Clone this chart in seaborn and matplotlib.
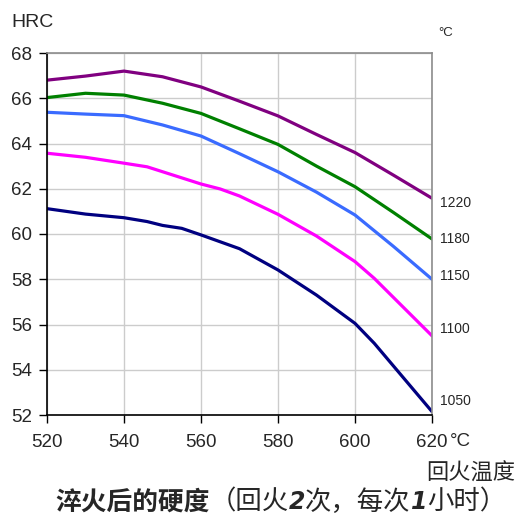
import pandas as pd
import seaborn as sns
import matplotlib.pyplot as plt

# tempering temperature (C) / hardness (HRC) for each quench temperature
quench = ["1220", "1180", "1150", "1100", "1050"]
temps_1220 = [520, 530, 540, 550, 560, 570, 580, 590, 600, 610, 620]
hrc_1220 = [66.8, 66.98, 67.2, 66.95, 66.5, 65.87, 65.22, 64.4, 63.6, 62.6, 61.58]
temps_1180 = [520, 530, 540, 550, 560, 570, 580, 590, 600, 610, 620]
hrc_1180 = [66.03, 66.22, 66.14, 65.78, 65.33, 64.65, 63.96, 63.0, 62.09, 60.95, 59.78]
temps_1150 = [520, 530, 540, 550, 560, 570, 580, 590, 600, 610, 620]
hrc_1150 = [65.38, 65.3, 65.23, 64.82, 64.33, 63.55, 62.75, 61.85, 60.84, 59.45, 58.0]
temps_1100 = [520, 530, 540, 546, 560, 565, 570, 580, 590, 600, 605, 620]
hrc_1100 = [63.57, 63.39, 63.13, 62.97, 62.21, 61.99, 61.68, 60.87, 59.91, 58.78, 58.04, 55.5]
temps_1050 = [520, 530, 540, 546, 550, 555, 560, 570, 580, 590, 600, 605, 620]
hrc_1050 = [61.12, 60.88, 60.72, 60.55, 60.38, 60.25, 59.96, 59.35, 58.41, 57.3, 56.05, 55.17, 52.15]

x_ticks = [520, 540, 560, 580, 600, 620]
y_ticks = [52, 54, 56, 58, 60, 62, 64, 66, 68]
colors = ["#800080", "#008000", "#3a6bff", "#ff00ff", "#000080"]
label_offsets = [-5, 0, 3, 7, 11]  # px, end labels vs line ends

temps = [temps_1220, temps_1180, temps_1150, temps_1100, temps_1050]
hrcs = [hrc_1220, hrc_1180, hrc_1150, hrc_1100, hrc_1050]
frames = [pd.DataFrame({"temp": t, "hrc": h, "quench": q}) for q, t, h in zip(quench, temps, hrcs)]
data = pd.concat(frames, ignore_index=True)

sns.set_style("white")
plt.rcParams["font.family"] = ["Liberation Sans", "Noto Sans CJK SC", "DejaVu Sans"]

W, H = 516, 517
fig = plt.figure(figsize=(W / 100, H / 100), dpi=100)
ax = fig.add_axes([47 / W, 1 - 415 / H, (432 - 47) / W, (415 - 53) / H])

sns.lineplot(data=data, x="temp", y="hrc", hue="quench", palette=colors,
             estimator=None, sort=False, linewidth=2.3, legend=False, ax=ax)

ax.set_xlim(520, 620)
ax.set_ylim(52, 68)
ax.set_xticks(x_ticks)
ax.set_yticks(y_ticks)
ax.set_xticklabels([str(v) for v in x_ticks])
ax.set_xlabel("")
ax.set_ylabel("")
ax.grid(True, color="#cccccc", linewidth=1.0)
ax.set_axisbelow(True)
ax.tick_params(axis="both", which="both", labelsize=13.5, direction="out",
               length=6, width=1, color="black", pad=5,
               bottom=True, left=True, top=False, right=False)
ax.tick_params(axis="x", pad=8)
for s in ["left", "bottom"]:
    ax.spines[s].set_color("black")
    ax.spines[s].set_linewidth(1.2)
for s in ["top", "right"]:
    ax.spines[s].set_color("#8c8c8c")
    ax.spines[s].set_linewidth(1.2)

for q, t, h, off in zip(quench, temps, hrcs, label_offsets):
    ax.annotate(q, xy=(t[-1], h[-1]), xytext=(8, off), textcoords="offset pixels",
                fontsize=10, va="center", ha="left", annotation_clip=False)

fig.text(11 / W, 1 - 22.5 / H, "HRC", fontsize=14, va="center", ha="left")
fig.text(438 / W, 1 - 33 / H, "°C", fontsize=9.5, va="center", ha="left")
fig.text(450 / W, 1 - 441 / H, "°C", fontsize=13.5, va="center", ha="left")
fig.text(515 / W, 1 - 473 / H, "回火温度", fontsize=16, va="center", ha="right",
         family=["Noto Sans CJK SC"])

# caption with mixed styles, laid out piece by piece
pieces = [
    ("淬火后的硬度", dict(fontsize=18.5, weight="bold", family=["Noto Sans CJK SC"])),
    ("（回火", dict(fontsize=19, family=["Noto Sans CJK SC"])),
    ("2", dict(fontsize=17, weight="bold", style="italic", family=["DejaVu Sans"])),
    ("次，每次", dict(fontsize=19, family=["Noto Sans CJK SC"])),
    ("1", dict(fontsize=17, weight="bold", style="italic", family=["DejaVu Sans"])),
    ("小时）", dict(fontsize=19, family=["Noto Sans CJK SC"])),
]
renderer = fig.canvas.get_renderer()
x = 55
for txt, kw in pieces:
    t = fig.text(x / W, 1 - 502 / H, txt, va="center", ha="left", **kw)
    bb = t.get_window_extent(renderer)
    x = bb.x1

fig.savefig("out.png", dpi=100)
